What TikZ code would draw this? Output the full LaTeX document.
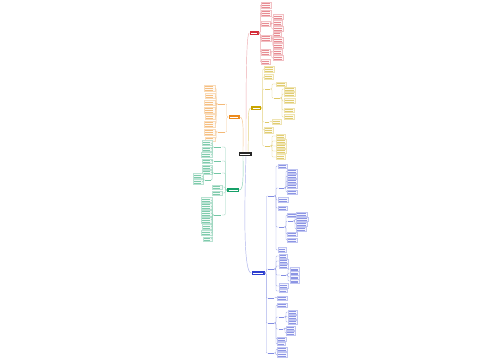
\documentclass[tikz,border=0pt]{standalone}
\usetikzlibrary{calc}
\definecolor{cR}{HTML}{D42E3A}
\definecolor{cY}{HTML}{C9A400}
\definecolor{cO}{HTML}{EC8A1C}
\definecolor{cG}{HTML}{16A068}
\definecolor{cB}{HTML}{2E3FCF}
\tikzset{
 leaf/.style={draw=#1!30, fill=#1!5, line width=0.2pt, inner sep=0pt,
   path picture={\foreach \k in {1,...,5}{\draw[#1!55, line width=0.45pt]
     ([xshift=1pt,yshift={-\k*1.8pt+0.3pt}]path picture bounding box.north west) --
     ([xshift=-1.5pt,yshift={-\k*1.8pt+0.3pt}]path picture bounding box.north east);}}},
 lbl/.style={fill=white, inner sep=0pt, minimum height=2.5pt,
   path picture={\draw[#1!60, line width=0.45pt]
     ([xshift=0.5pt]path picture bounding box.west) -- ([xshift=-0.5pt]path picture bounding box.east);}},
 mainnode/.style={fill=#1, inner sep=0pt, minimum height=3.5pt,
   path picture={\draw[white, line width=0.6pt]
     ([xshift=1.5pt]path picture bounding box.west) -- ([xshift=-1.5pt]path picture bounding box.east);}},
 conn/.style={draw=#1!45, line width=0.3pt, rounded corners=1pt}
}
\newcommand\mmLeaf[6][west]{\node[leaf=#6, anchor=#1, minimum width=#4pt, minimum height=#5pt] (#2) at (#3) {};}
\newcommand\mmLbl[5][west]{\node[lbl=#5, anchor=#1, minimum width=#4pt] (#2) at (#3) {};}
\newcommand\mmR[3]{\foreach \ch in {#3}{\draw[conn=#1] (#2.east) -- ++(1.5,0) |- (\ch.west);}}
\newcommand\mmL[3]{\foreach \ch in {#3}{\draw[conn=#1] (#2.west) -- ++(-1.5,0) |- (\ch.east);}}
\begin{document}
\begin{tikzpicture}[x=1pt,y=-1pt]
\useasboundingbox[fill=white] (0,0) rectangle (500,360);
% centre
\node[mainnode=black!85, minimum width=13pt] (C) at (245,154) {};
% ---------------- red
\node[mainnode=cR, minimum width=9pt] (R) at (254,33) {};
\mmLeaf{r1}{261,5}{10}{6}{cR}
\mmLeaf{r2}{261,13}{10}{6}{cR}
\mmLeaf{r3}{261,24}{9}{5}{cR}
\mmLeaf{r4}{261,38}{10}{6}{cR}
\mmLeaf{r5}{261,52}{9}{6}{cR}
\mmLeaf{r6}{261,62}{9}{5}{cR}
\mmLeaf{r3a}{273,17}{10}{5}{cR}
\mmLeaf{r3b}{273,23}{9}{5}{cR}
\mmLeaf{r3c}{273,29}{10}{5}{cR}
\mmLeaf{r4a}{273,34}{8}{4}{cR}
\mmLeaf{r4b}{273,40}{10}{5}{cR}
\mmLeaf{r4c}{273,46}{10}{5}{cR}
\mmLeaf{r5a}{273,52}{9}{5}{cR}
\mmLeaf{r5b}{273,58}{10}{5}{cR}
\mmR{cR}{R}{r1,r2,r3,r4,r5,r6}
\mmR{cR}{r3}{r3a,r3b,r3c}
\mmR{cR}{r4}{r4a,r4b,r4c}
\mmR{cR}{r5}{r5a,r5b}
% ---------------- yellow
\node[mainnode=cY, minimum width=10pt] (Y) at (256,108) {};
\mmLeaf{ya}{264,69}{10}{6}{cY}
\mmLeaf{yb}{264,77}{9}{5}{cY}
\mmLbl{yl1}{264,89}{6}{cY}
\mmLeaf{yl1a}{276,84}{10}{4}{cY}
\mmLbl{yl1b}{273,98}{7}{cY}
\mmLeaf{y11}{284,89}{11}{4}{cY}
\mmLeaf{y12}{284,94}{11}{4}{cY}
\mmLeaf{y13}{284,101}{11}{5}{cY}
\mmLeaf{y14}{284,110}{10}{4}{cY}
\mmLeaf{y15}{284,117}{10}{5}{cY}
\mmLbl{yl2}{264,122}{5}{cY}
\mmLeaf{y21}{272,122}{9}{5}{cY}
\mmLeaf{yc}{264,130}{9}{6}{cY}
\mmLbl{yl3}{264,146}{6}{cY}
\mmLeaf{y31}{276,136}{9}{4}{cY}
\mmLeaf{y32}{276,141}{10}{4}{cY}
\mmLeaf{y33}{276,146}{10}{4}{cY}
\mmLeaf{y34}{276,151}{10}{4}{cY}
\mmLeaf{y35}{276,157}{9}{5}{cY}
\mmR{cY}{Y}{ya,yb,yl1,yl2,yc,yl3}
\mmR{cY}{yl1}{yl1a,yl1b}
\mmR{cY}{yl1b}{y11,y12,y13,y14,y15}
\mmR{cY}{yl2}{y21}
\mmR{cY}{yl3}{y31,y32,y33,y34,y35}
% ---------------- orange
\node[mainnode=cO, minimum width=11pt] (O) at (234,117) {};
\mmLbl[east]{ol1}{226,104}{8}{cO}
\mmLeaf[east]{o11}{215,88}{11}{6}{cO}
\mmLeaf[east]{o12}{215,96}{10}{5}{cO}
\mmLeaf[east]{o13}{215,103}{11}{5}{cO}
\mmLeaf[east]{o14}{215,110}{11}{6}{cO}
\mmLeaf[east]{o15}{215,117}{10}{5}{cO}
\mmLeaf[east]{o16}{215,124}{11}{6}{cO}
\mmLbl[east]{ol2}{226,132}{8}{cO}
\mmLeaf[east]{o21}{215,132}{11}{6}{cO}
\mmLeaf[east]{o22}{215,139}{10}{4}{cO}
\mmL{cO}{O}{ol1,ol2}
\mmL{cO}{ol1}{o11,o12,o13,o14,o15,o16}
\mmL{cO}{ol2}{o21,o22}
% ---------------- green
\node[mainnode=cG, minimum width=12pt] (G) at (233,190) {};
\mmLbl[east]{gA}{222,147}{8}{cG}
\mmLeaf[east]{gA1}{212,143}{10}{5}{cG}
\mmLeaf[east]{gA2}{212,149}{10}{4}{cG}
\mmLeaf[east]{gA3}{212,155}{11}{5}{cG}
\mmLbl[east]{gB}{222,161}{8}{cG}
\mmLeaf[east]{gB1}{212,161}{10}{4}{cG}
\mmLbl[east]{gC}{222,173}{8}{cG}
\mmLeaf[east]{gC1}{212,167}{10}{4}{cG}
\mmLeaf[east]{gC2}{212,172}{10}{4}{cG}
\mmLbl[east]{gC3}{212,180}{7}{cG}
\mmLeaf[east]{gC31}{203,176}{10}{5}{cG}
\mmLeaf[east]{gC32}{203,182}{10}{5}{cG}
\mmLeaf[east]{gD}{222,187}{10}{4}{cG}
\mmLeaf[east]{gE}{222,193}{10}{4}{cG}
\mmLbl[east]{gF}{222,215}{8}{cG}
\mmLeaf[east]{gF1}{212,200}{11}{5}{cG}
\mmLeaf[east]{gF2}{212,206}{11}{6}{cG}
\mmLeaf[east]{gF3}{212,213}{11}{6}{cG}
\mmLeaf[east]{gF4}{212,220}{11}{6}{cG}
\mmLeaf[east]{gF5}{212,227}{10}{5}{cG}
\mmLeaf[east]{gF6}{212,233}{11}{5}{cG}
\mmLeaf[east]{gF7}{212,239}{9}{4}{cG}
\mmL{cG}{G}{gA,gB,gC,gD,gE,gF}
\mmL{cG}{gA}{gA1,gA2,gA3}
\mmL{cG}{gB}{gB1}
\mmL{cG}{gC}{gC1,gC2,gC3}
\mmL{cG}{gC3}{gC31,gC32}
\mmL{cG}{gF}{gF1,gF2,gF3,gF4,gF5,gF6,gF7}
% ---------------- blue
\node[mainnode=cB, minimum width=13pt] (B) at (258,273) {};
\mmLbl{b1}{267,196}{7}{cB}
\mmLeaf{b1x}{278,166}{9}{4}{cB}
\mmLbl{b1a}{278,188}{6}{cB}
\mmLeaf{b1a1}{287,171}{10}{4}{cB}
\mmLeaf{b1a2}{287,176}{10}{4}{cB}
\mmLeaf{b1a3}{287,181}{10}{4}{cB}
\mmLeaf{b1a4}{287,186}{10}{4}{cB}
\mmLeaf{b1a5}{287,192}{10}{4}{cB}
\mmLeaf{b1y}{278,200}{10}{5}{cB}
\mmLeaf{b1z}{278,208}{9}{4}{cB}
\mmLbl{b1b}{278,227}{6}{cB}
\mmLeaf{b1b1}{287,215}{10}{4}{cB}
\mmLbl{b1bb}{287,221}{6}{cB}
\mmLeaf{b1bb1}{296,214}{11}{4}{cB}
\mmLeaf{b1bb2}{296,219}{12}{4}{cB}
\mmLeaf{b1bb3}{296,224}{11}{4}{cB}
\mmLeaf{b1bb4}{296,229}{10}{4}{cB}
\mmLeaf{b1b2}{287,234}{10}{4}{cB}
\mmLeaf{b1b3}{287,240}{10}{4}{cB}
\mmLeaf{b1w}{278,250}{8}{5}{cB}
\mmLbl{b3}{267,269}{7}{cB}
\mmLeaf{b31}{279,256}{8}{4}{cB}
\mmLeaf{b32}{279,261}{9}{4}{cB}
\mmLeaf{b33}{279,266}{9}{4}{cB}
\mmLbl{b3a}{280,275}{6}{cB}
\mmLeaf{b3a1}{290,269}{9}{3.5}{cB}
\mmLeaf{b3a2}{290,273}{9}{3.5}{cB}
\mmLeaf{b3a3}{290,277}{9}{3.5}{cB}
\mmLeaf{b3a4}{290,281}{9}{3.5}{cB}
\mmLeaf{b34}{279,286}{9}{5}{cB}
\mmLeaf{b35}{279,291}{8}{3}{cB}
\mmLbl{b4}{267,298}{7}{cB}
\mmLeaf{b41}{277,298}{10}{4}{cB}
\mmLbl{b5}{267,323}{7}{cB}
\mmLeaf{b51}{277,305}{10}{4}{cB}
\mmLbl{b5a}{278,317}{6}{cB}
\mmLeaf{b5a1}{288,312}{9}{4}{cB}
\mmLeaf{b5a2}{288,317}{9}{4}{cB}
\mmLeaf{b5a3}{288,322}{9}{4}{cB}
\mmLbl{b5b}{278,329}{5}{cB}
\mmLeaf{b5b1}{286,328}{9}{4}{cB}
\mmLeaf{b5b2}{286,333}{9}{4}{cB}
\mmLeaf{b52}{277,339}{9}{4}{cB}
\mmLeaf{b53}{277,344}{8}{3}{cB}
\mmLbl{b6}{267,353}{7}{cB}
\mmLeaf{b61}{277,349}{10}{4}{cB}
\mmLeaf{b62}{277,355}{10}{5}{cB}
\mmR{cB}{B}{b1,b3,b4,b5,b6}
\mmR{cB}{b1}{b1x,b1a,b1y,b1z,b1b,b1w}
\mmR{cB}{b1a}{b1a1,b1a2,b1a3,b1a4,b1a5}
\mmR{cB}{b1b}{b1b1,b1bb,b1b2,b1b3}
\mmR{cB}{b1bb}{b1bb1,b1bb2,b1bb3,b1bb4}
\mmR{cB}{b3}{b31,b32,b33,b3a,b34,b35}
\mmR{cB}{b3a}{b3a1,b3a2,b3a3,b3a4}
\mmR{cB}{b4}{b41}
\mmR{cB}{b5}{b51,b5a,b5b,b52,b53}
\mmR{cB}{b5a}{b5a1,b5a2,b5a3}
\mmR{cB}{b5b}{b5b1,b5b2}
\mmR{cB}{b6}{b61,b62}
% ---------------- main connectors
\draw[cR!40, line width=0.45pt] ([xshift=1pt]C.north) .. controls (246,90) and (246,33) .. (R.west);
\draw[cY!50, line width=0.45pt] ([xshift=3pt]C.north) .. controls (249,125) and (247,108) .. (Y.west);
\draw[cO!50, line width=0.45pt] ([xshift=-2pt]C.north) .. controls (243,130) and (244,117) .. (O.east);
\draw[cG!50, line width=0.45pt] ([xshift=-2pt]C.south) .. controls (243,175) and (244,190) .. (G.east);
\draw[cB!40, line width=0.45pt] ([xshift=1pt]C.south) .. controls (244,220) and (244,273) .. (B.west);
\end{tikzpicture}
\end{document}
